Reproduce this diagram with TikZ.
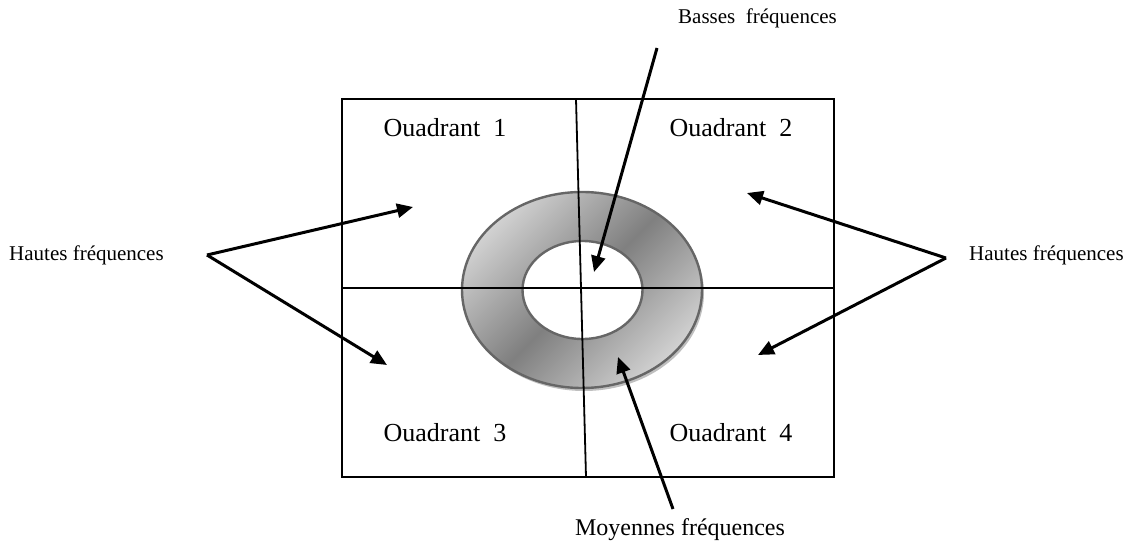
\documentclass[tikz,border=0pt]{standalone}
\usepackage{fontspec}
\setmainfont{Liberation Serif}
\usetikzlibrary{arrows.meta, calc}

\begin{document}
\begin{tikzpicture}[x=1pt, y=-1pt, >={Triangle[length=16pt, width=14pt]},
    lbl/.style={inner sep=0pt, font=\fontsize{21}{25}\selectfont},
    quad/.style={inner sep=0pt, font=\fontsize{26}{30}\selectfont},
    ptr/.style={->, line width=3pt},
    frame/.style={line width=1.8pt}]
    \useasboundingbox (0,0) rectangle (1128,551);

    % ring: shadow, shaded disc, hole
    \fill[black!25] (584,293) ellipse [x radius=120, y radius=98];
    \shade[top color=black!18, bottom color=black!18, middle color=black!50, shading angle=45,
           draw=black!60, line width=2.4pt] (582,290) ellipse [x radius=120, y radius=98];
    \filldraw[fill=white, draw=black!60, line width=2.4pt] (582.5,290) ellipse [x radius=60, y radius=49];

    % frame and the two axes
    \draw[frame] (342,99) rectangle (834,477);
    \coordinate (ytop) at (576,99);
    \coordinate (ybot) at (586,477);
    \coordinate (xl) at (342,288);
    \coordinate (xr) at (834,288);
    \draw[frame] (ytop) -- (ybot);
    \draw[frame] (xl) -- (xr);

    % quadrant names
    \node[quad] (q1) at (445,128) {Ouadrant\ \ 1};
    \node[quad] (q2) at (731,128) {Ouadrant\ \ 2};
    \node[quad] (q3) at (445,433) {Ouadrant\ \ 3};
    \node[quad] (q4) at (731,433) {Ouadrant\ \ 4};

    % labels
    \node[lbl, anchor=west] (hfl) at (9,255) {Hautes fréquences};
    \node[lbl, anchor=west] (hfr) at (969,255) {Hautes fréquences};
    \node[lbl, anchor=west] (bf) at (678,18) {Basses\ \ fréquences};
    \node[font=\fontsize{24}{28}\selectfont, inner sep=0pt] (mf) at (680,530) {Moyennes fréquences};

    % arrow ends
    \coordinate (hubl) at (207,255);
    \coordinate (hubr) at (946,258);
    \coordinate (bfs) at (657,48);
    \coordinate (mfs) at (673,509);
    \coordinate (t1) at (413,207);
    \coordinate (t3) at (387,365);
    \coordinate (t2) at (747,193);
    \coordinate (t4) at (758,355);
    \coordinate (tb) at (594,272);
    \coordinate (tm) at (618,357);

    \draw[ptr] (hubl) -- (t1);
    \draw[ptr] (hubl) -- (t3);
    \draw[ptr] (hubr) -- (t2);
    \draw[ptr] (hubr) -- (t4);
    \draw[ptr] (bfs) -- (tb);
    \draw[ptr] (mfs) -- (tm);
\end{tikzpicture}
\end{document}
